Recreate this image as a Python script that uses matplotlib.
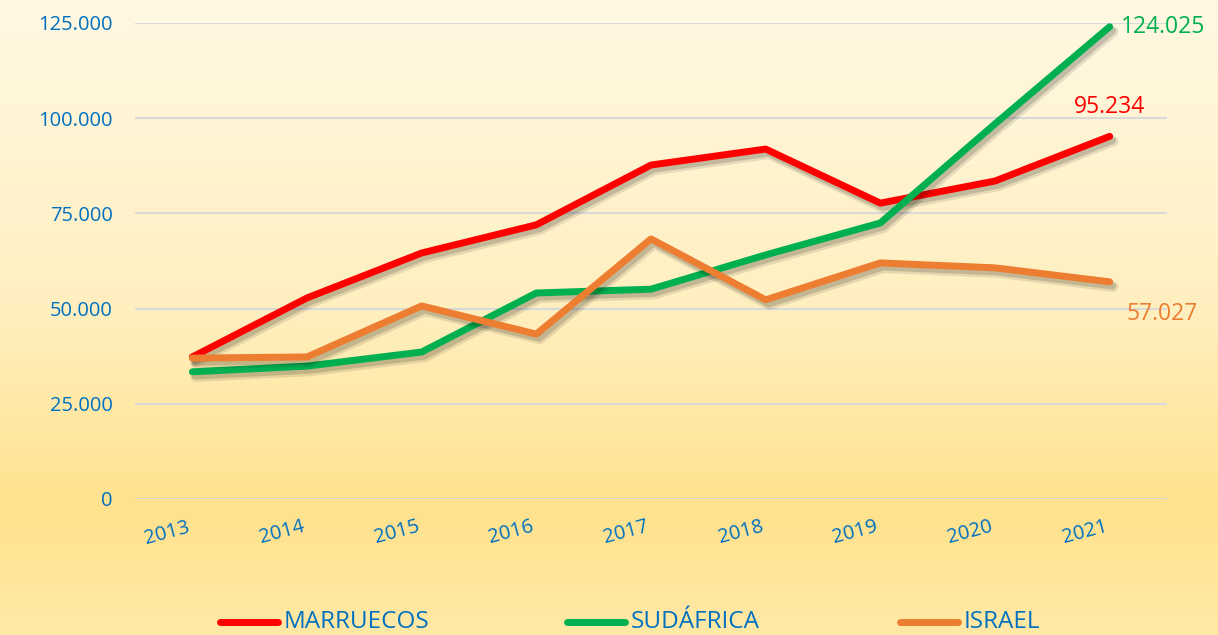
import numpy as np
import matplotlib
matplotlib.use("Agg")
import matplotlib.pyplot as plt
import matplotlib.patheffects as pe
from matplotlib.colors import LinearSegmentedColormap
from matplotlib.lines import Line2D

years = ["2013", "2014", "2015", "2016", "2017", "2018", "2019", "2020", "2021"]
marruecos = [37300, 52800, 64600, 72000, 87700, 91900, 77700, 83500, 95234]
sudafrica = [33400, 34900, 38600, 54100, 55100, 64100, 72500, 98500, 124025]
israel = [37000, 37300, 50700, 43300, 68300, 52300, 62000, 60700, 57027]
series_names = ["MARRUECOS", "SUDÁFRICA", "ISRAEL"]
colors = ["#FF0000", "#00B050", "#ED7D31"]
yticks = [0, 25000, 50000, 75000, 100000, 125000]
ytick_labels = ["0", "25.000", "50.000", "75.000", "100.000", "125.000"]

plt.rcParams['font.family'] = ['Open Sans', 'DejaVu Sans']
blue = "#0070C0"
W, H = 1218, 635

fig = plt.figure(figsize=(W/100, H/100), dpi=100)

# background gradient
bg = fig.add_axes([0, 0, 1, 1], zorder=-10)
cmap = LinearSegmentedColormap.from_list(
    "bg", [(0.0, "#FFF8E3"), (0.5, "#FFEFBE"), (0.8, "#FFE28D"), (1.0, "#FFE9A6")])
grad = np.linspace(0, 1, 256).reshape(-1, 1)
bg.imshow(grad, aspect="auto", cmap=cmap, extent=[0, 1, 0, 1], origin="upper")
bg.axis("off")

ax = fig.add_axes([135/W, 1-499/H, (1167-135)/W, (499-23)/H])
ax.set_facecolor("none")
x = np.arange(len(years))
shadow = [pe.SimpleLineShadow(offset=(2.5, -3.5), shadow_color="black", alpha=0.10, rho=0.3, linewidth=7.5),
          pe.SimpleLineShadow(offset=(2, -3), shadow_color="black", alpha=0.15, rho=0.3),
          pe.Normal()]
for vals, c in zip([marruecos, sudafrica, israel], colors):
    ax.plot(x, vals, color=c, lw=5, solid_capstyle="round", solid_joinstyle="round",
            path_effects=shadow, clip_on=False, zorder=3)

ax.set_xlim(-0.5, len(years)-0.5)
ax.set_ylim(0, 125000)
ax.set_yticks(yticks)
ax.set_yticklabels(ytick_labels)
ax.set_xticks(x)
ax.set_xticklabels(years, rotation=15, ha="right")
ax.tick_params(axis="y", length=0, pad=16, labelsize=14.5, labelcolor=blue)
ax.tick_params(axis="x", length=0, pad=13, labelsize=14.5, labelcolor=blue)
for s in ax.spines.values():
    s.set_visible(False)
ax.grid(axis="y", color="#D9D9D9", lw=1.5)
ax.set_axisbelow(True)

# data labels
ax.annotate("124.025", (x[-1], sudafrica[-1]), xytext=(8, 0), textcoords="offset points",
            color=colors[1], fontsize=16.5, va="center", ha="left", annotation_clip=False)
ax.annotate("95.234", (x[-1], marruecos[-1]), xytext=(0, 21), textcoords="offset points",
            color=colors[0], fontsize=16.5, va="center", ha="center", annotation_clip=False)
ax.annotate("57.027", (x[-1], israel[-1]), xytext=(12, -23), textcoords="offset points",
            color=colors[2], fontsize=16.5, va="center", ha="left", annotation_clip=False)

# legend (manual placement)
leg_x = [220, 567, 900]
leg_y = 1 - 622/H
for lx, name, c in zip(leg_x, series_names, colors):
    fig.add_artist(Line2D([lx/W, (lx+58)/W], [leg_y, leg_y], color=c, lw=5,
                          solid_capstyle="round", transform=fig.transFigure))
    fig.text((lx+64)/W, leg_y, name, color=blue, fontsize=17.5, va="center", ha="left")

fig.savefig("out.png", dpi=100)
